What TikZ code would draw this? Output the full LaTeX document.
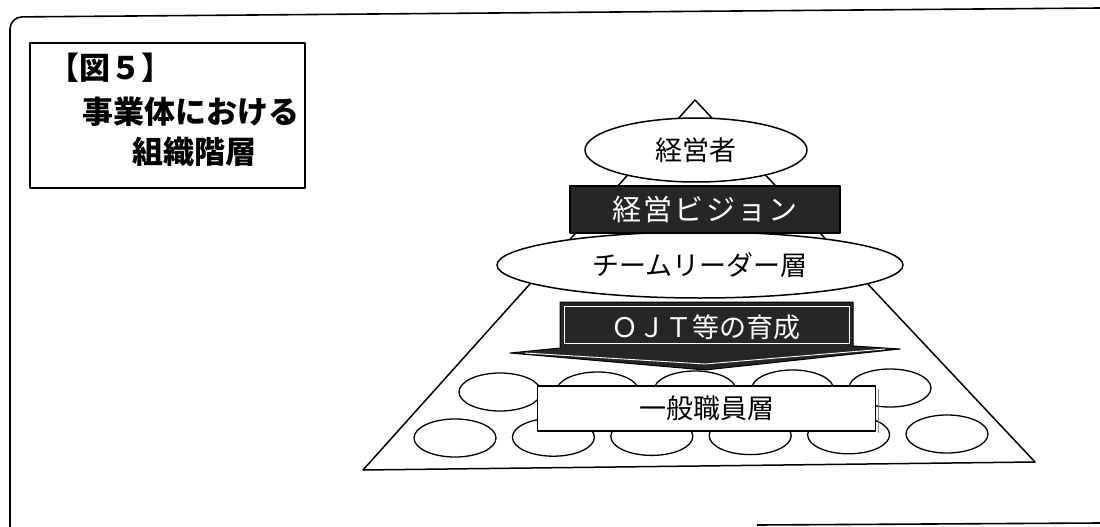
\documentclass[tikz,border=0pt]{standalone}
\usepackage{fontspec}
\newfontfamily\jp{Noto Sans CJK JP}
\usetikzlibrary{shapes.geometric}
\begin{document}
\begin{tikzpicture}[x=1pt,y=-1pt,line join=round,
  frame/.style={line width=1.6pt},
  bigoval/.style={ellipse,draw,fill=white,line width=1.5pt,inner sep=0pt},
  smalloval/.style={ellipse,draw,fill=white,line width=1.3pt,inner sep=0pt,minimum width=82pt,minimum height=38pt},
  lbl/.style={font=\jp\fontsize{27}{27}\selectfont},
  ttl/.style={font=\jp\bfseries\fontsize{31}{31}\selectfont,inner sep=0pt},
  darkbox/.style={fill=black!85,draw=black,line width=1.2pt,text=white}
]
\useasboundingbox (0,0) rectangle (1100,527);
% outer frame (partial, as scanned)
\coordinate (f1) at (10,527);
\coordinate (f2) at (10,17);
\coordinate (f3) at (1100,8);
\coordinate (g1) at (757,525);
\coordinate (g2) at (1100,523);
\draw[frame,rounded corners=12pt] (f1) -- (f2) -- (f3);
\draw[frame] (g1) -- (g2);
% title box
\node[draw,line width=1.6pt,minimum width=275pt,minimum height=145pt,inner sep=0pt] (titlebox) at (167.5,115.5) {};
\node[ttl,anchor=west] (t1) at (48,68) {【図５】};
\node[ttl] (t2) at (191,112) {事業体における};
\node[ttl] (t3) at (194,152) {組織階層};
% pyramid
\coordinate (apex) at (695,100);
\coordinate (bl) at (363,470);
\coordinate (br) at (1035,462);
\draw[line width=1.5pt] (apex) -- (bl) -- (br) -- cycle;
% small ovals
\foreach \x [count=\i] in {500,597.5,695,792.5,890}
  \node[smalloval] (up\i) at (\x,{392-(\i-1)}) {};
\foreach \x [count=\i] in {455,553.4,651.8,750.2,848.6,947}
  \node[smalloval] (lo\i) at (\x,{438-(\i-1)*0.8}) {};
% general staff box
\draw[black!45,line width=1pt] (878,389) -- (878,433);
\node[draw,fill=white,line width=1.3pt,minimum width=338pt,minimum height=45pt,inner sep=0pt,lbl] (staff) at (706.5,408.5) {一般職員層};
% OJT arrow
\coordinate (a1) at (560,302);
\coordinate (a2) at (853,302);
\coordinate (a3) at (853,346);
\coordinate (a4) at (900,349);
\coordinate (a5) at (705,370);
\coordinate (a6) at (510,353);
\coordinate (a7) at (560,348);
\fill[black!85,draw=black,line width=1pt] (a1) -- (a2) -- (a3) -- (a4) -- (a5) -- (a6) -- (a7) -- cycle;
\coordinate (b1) at (564,306);
\coordinate (b2) at (849,343);
\draw[white,line width=0.9pt] (b1) rectangle (b2);
\coordinate (c1) at (525,353);
\coordinate (c2) at (705,364);
\coordinate (c3) at (885,349);
\draw[white,line width=0.9pt] (c1) -- (c2) -- (c3);
\node[lbl,text=white] (ojt) at (706,327) {ＯＪＴ等の育成};
% team leader
\node[bigoval,minimum width=406pt,minimum height=66pt,lbl] (team) at (700,265) {チームリーダー層};
% vision
\node[darkbox,minimum width=270pt,minimum height=47pt,inner sep=0pt,font=\jp\fontsize{29}{29}\selectfont\addfontfeature{LetterSpace=8}] (vision) at (705,209.5) {経営ビジョン};
% top manager
\node[bigoval,minimum width=222pt,minimum height=64pt,lbl] (mgr) at (696,150) {経営者};
\end{tikzpicture}
\end{document}
